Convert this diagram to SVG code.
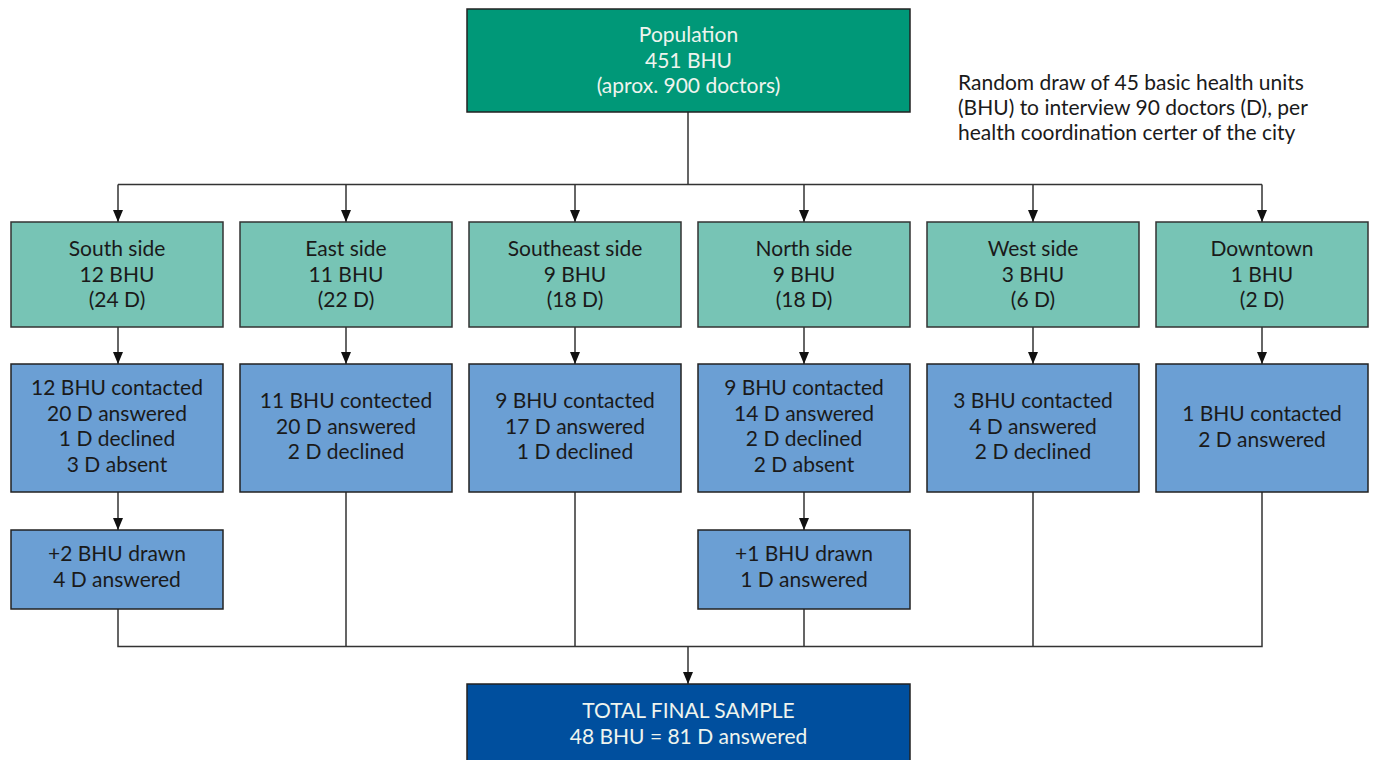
<svg xmlns="http://www.w3.org/2000/svg" width="1373" height="760" viewBox="0 0 1373 760">
<style>
  text { font-family: Lato, "Open Sans", "Liberation Sans", sans-serif; font-size: 21px; text-anchor: middle; }
  .light { fill: #eef4ee; }
  .dark { fill: #1a1a1a; }
  .note { text-anchor: start; fill: #1a1a1a; font-size: 21px; }
  .pop { fill: #009878; stroke: #222; stroke-width: 1.5; }
  .reg { fill: #77c4b5; stroke: #333; stroke-width: 1.5; }
  .blu { fill: #6b9fd4; stroke: #222; stroke-width: 1.5; }
  .tot { fill: #004f9e; stroke: #222; stroke-width: 1.5; }
  .ln { fill: none; stroke: #333; stroke-width: 1.5; }
</style>
<defs>
  <marker id="ah" viewBox="0 0 12 10" refX="12" refY="5" markerWidth="12" markerHeight="10" markerUnits="userSpaceOnUse" orient="auto">
    <path d="M0,0 L12,5 L0,10 Z" fill="#111"/>
  </marker>
</defs>
<rect width="1373" height="760" fill="#ffffff"/>

<g id="connectors">
  <path class="ln" d="M688,112 V184.5 M118,184.5 H1262"/>
  <path class="ln" d="M118,184.5 V222" marker-end="url(#ah)"/>
  <path class="ln" d="M346,184.5 V222" marker-end="url(#ah)"/>
  <path class="ln" d="M575,184.5 V222" marker-end="url(#ah)"/>
  <path class="ln" d="M804,184.5 V222" marker-end="url(#ah)"/>
  <path class="ln" d="M1033,184.5 V222" marker-end="url(#ah)"/>
  <path class="ln" d="M1262,184.5 V222" marker-end="url(#ah)"/>
  <path class="ln" d="M118,327 V364" marker-end="url(#ah)"/>
  <path class="ln" d="M346,327 V364" marker-end="url(#ah)"/>
  <path class="ln" d="M575,327 V364" marker-end="url(#ah)"/>
  <path class="ln" d="M804,327 V364" marker-end="url(#ah)"/>
  <path class="ln" d="M1033,327 V364" marker-end="url(#ah)"/>
  <path class="ln" d="M1262,327 V364" marker-end="url(#ah)"/>
  <path class="ln" d="M118,492 V530" marker-end="url(#ah)"/>
  <path class="ln" d="M804,492 V530" marker-end="url(#ah)"/>
  <path class="ln" d="M118,609 V646.5 H1262 V492 M346,492 V646.5 M575,492 V646.5 M804,609 V646.5 M1033,492 V646.5"/>
  <path class="ln" d="M688,646.5 V684" marker-end="url(#ah)"/>
</g>

<g id="population">
  <rect class="pop" x="467" y="9" width="443" height="103"/>
  <text class="light" x="688.5" y="42">Population</text>
  <text class="light" x="688.5" y="68">451 BHU</text>
  <text class="light" x="688.5" y="93">(aprox. 900 doctors)</text>
</g>

<g id="note">
  <text class="note" x="958" y="90">Random draw of 45 basic health units</text>
  <text class="note" x="958" y="115">(BHU) to interview 90 doctors (D), per</text>
  <text class="note" x="958" y="140">health coordination certer of the city</text>
</g>

<g id="south">
  <rect class="reg" x="11" y="222" width="212" height="105"/>
  <text class="dark" x="117" y="256">South side</text>
  <text class="dark" x="117" y="282">12 BHU</text>
  <text class="dark" x="117" y="307">(24 D)</text>
</g>
<g id="east">
  <rect class="reg" x="240" y="222" width="212" height="105"/>
  <text class="dark" x="346" y="256">East side</text>
  <text class="dark" x="346" y="282">11 BHU</text>
  <text class="dark" x="346" y="307">(22 D)</text>
</g>
<g id="southeast">
  <rect class="reg" x="469" y="222" width="212" height="105"/>
  <text class="dark" x="575" y="256">Southeast side</text>
  <text class="dark" x="575" y="282">9 BHU</text>
  <text class="dark" x="575" y="307">(18 D)</text>
</g>
<g id="north">
  <rect class="reg" x="698" y="222" width="212" height="105"/>
  <text class="dark" x="804" y="256">North side</text>
  <text class="dark" x="804" y="282">9 BHU</text>
  <text class="dark" x="804" y="307">(18 D)</text>
</g>
<g id="west">
  <rect class="reg" x="927" y="222" width="212" height="105"/>
  <text class="dark" x="1033" y="256">West side</text>
  <text class="dark" x="1033" y="282">3 BHU</text>
  <text class="dark" x="1033" y="307">(6 D)</text>
</g>
<g id="downtown">
  <rect class="reg" x="1156" y="222" width="212" height="105"/>
  <text class="dark" x="1262" y="256">Downtown</text>
  <text class="dark" x="1262" y="282">1 BHU</text>
  <text class="dark" x="1262" y="307">(2 D)</text>
</g>

<g id="south-contact">
  <rect class="blu" x="11" y="364" width="212" height="128"/>
  <text class="dark" x="117" y="395">12 BHU contacted</text>
  <text class="dark" x="117" y="421">20 D answered</text>
  <text class="dark" x="117" y="446">1 D declined</text>
  <text class="dark" x="117" y="472">3 D absent</text>
</g>
<g id="east-contact">
  <rect class="blu" x="240" y="364" width="212" height="128"/>
  <text class="dark" x="346" y="408">11 BHU contected</text>
  <text class="dark" x="346" y="434">20 D answered</text>
  <text class="dark" x="346" y="459">2 D declined</text>
</g>
<g id="southeast-contact">
  <rect class="blu" x="469" y="364" width="212" height="128"/>
  <text class="dark" x="575" y="408">9 BHU contacted</text>
  <text class="dark" x="575" y="434">17 D answered</text>
  <text class="dark" x="575" y="459">1 D declined</text>
</g>
<g id="north-contact">
  <rect class="blu" x="698" y="364" width="212" height="128"/>
  <text class="dark" x="804" y="395">9 BHU contacted</text>
  <text class="dark" x="804" y="421">14 D answered</text>
  <text class="dark" x="804" y="446">2 D declined</text>
  <text class="dark" x="804" y="472">2 D absent</text>
</g>
<g id="west-contact">
  <rect class="blu" x="927" y="364" width="212" height="128"/>
  <text class="dark" x="1033" y="408">3 BHU contacted</text>
  <text class="dark" x="1033" y="434">4 D answered</text>
  <text class="dark" x="1033" y="459">2 D declined</text>
</g>
<g id="downtown-contact">
  <rect class="blu" x="1156" y="364" width="212" height="128"/>
  <text class="dark" x="1262" y="421">1 BHU contacted</text>
  <text class="dark" x="1262" y="447">2 D answered</text>
</g>

<g id="south-extra">
  <rect class="blu" x="11" y="530" width="212" height="79"/>
  <text class="dark" x="117" y="561">+2 BHU drawn</text>
  <text class="dark" x="117" y="587">4 D answered</text>
</g>
<g id="north-extra">
  <rect class="blu" x="698" y="530" width="212" height="79"/>
  <text class="dark" x="804" y="561">+1 BHU drawn</text>
  <text class="dark" x="804" y="587">1 D answered</text>
</g>

<g id="total">
  <rect class="tot" x="467" y="684" width="443" height="90"/>
  <text class="light" x="688.5" y="718">TOTAL FINAL SAMPLE</text>
  <text class="light" x="688.5" y="744">48 BHU = 81 D answered</text>
</g>
</svg>
